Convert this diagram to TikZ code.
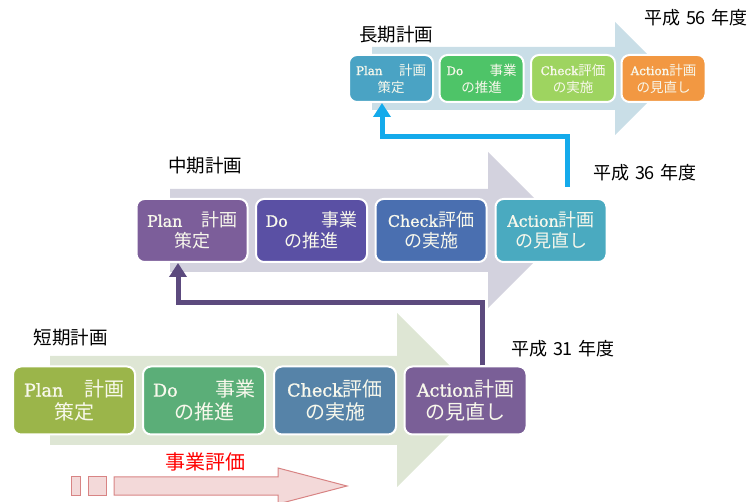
\documentclass[tikz,border=0pt]{standalone}
\usepackage{fontspec}
\setmainfont{Noto Sans CJK JP}
\newfontfamily\lat{DejaVu Serif}[Scale=0.88, FakeBold=1.2]
\usetikzlibrary{arrows.meta}
\definecolor{arrL}{RGB}{201,222,231}
\definecolor{arrM}{RGB}{211,210,222}
\definecolor{arrS}{RGB}{222,230,212}
\definecolor{lPc}{RGB}{74,163,196}
\definecolor{lDc}{RGB}{78,196,104}
\definecolor{lCc}{RGB}{158,212,96}
\definecolor{lAc}{RGB}{242,152,66}
\definecolor{mPc}{RGB}{124,94,154}
\definecolor{mDc}{RGB}{90,80,164}
\definecolor{mCc}{RGB}{74,111,176}
\definecolor{mAc}{RGB}{74,170,192}
\definecolor{sPc}{RGB}{155,181,74}
\definecolor{sDc}{RGB}{91,174,120}
\definecolor{sCc}{RGB}{86,131,168}
\definecolor{sAc}{RGB}{122,95,151}
\definecolor{txtc}{RGB}{248,248,236}
\definecolor{purc}{RGB}{92,74,126}
\definecolor{bluc}{RGB}{20,170,235}
\definecolor{pinkf}{RGB}{243,217,217}
\definecolor{pinkd}{RGB}{216,132,132}
\newcommand{\lt}[1]{{\lat #1}}
\newcommand{\ysp}{\hspace{5.5pt}}
\tikzset{
  pbox/.style={draw=white, line width=2pt, rounded corners=8pt, text=txtc, align=center, inner sep=0pt},
  boxL/.style={pbox, minimum width=84, minimum height=47, font=\fontsize{13.5}{17}\selectfont},
  boxM/.style={pbox, minimum width=111, minimum height=63, font=\fontsize{18}{21}\selectfont},
  boxS/.style={pbox, minimum width=122, minimum height=68, font=\fontsize{20}{23}\selectfont},
  rowlab/.style={font=\fontsize{18.5}{20}\selectfont, inner sep=0pt},
  yearlab/.style={font=\fontsize{18}{20}\selectfont, inner sep=0pt},
  conn/.style={line width=5pt, -{Triangle[width=17pt,length=14pt]}},
}
\begin{document}
\begin{tikzpicture}[x=1pt,y=-1pt]
\useasboundingbox (0,0) rectangle (750,502);
% background arrows
\fill[arrL] (372,47) -- (615,47) -- (615,22) -- (671.5,78.5) -- (615,135) -- (615,110) -- (372,110) -- cycle;
\fill[arrM] (170,189) -- (488,189) -- (488,152) -- (566,230) -- (488,308) -- (488,272) -- (170,272) -- cycle;
\fill[arrS] (50,356) -- (397,356) -- (397,313) -- (484,400) -- (397,487) -- (397,445) -- (50,445) -- cycle;
% long-term
\node[boxL, fill=lPc] (lP) at (391,78.5) {\makebox[70pt]{\lt{Plan}\hfill 計画}\\策定};
\node[boxL, fill=lDc] (lD) at (481.5,78.5) {\makebox[70pt]{\lt{Do}\hfill 事業}\\の推進};
\node[boxL, fill=lCc] (lC) at (573,78.5) {\lt{Check}評価\\の実施};
\node[boxL, fill=lAc] (lA) at (663.5,78.5) {\lt{Action}計画\\の見直し};
% mid-term
\node[boxM, fill=mPc] (mP) at (192,230.5) {\makebox[90pt]{\lt{Plan}\hfill 計画}\\策定};
\node[boxM, fill=mDc] (mD) at (311.5,230.5) {\makebox[92pt]{\lt{Do}\hfill 事業}\\の推進};
\node[boxM, fill=mCc] (mC) at (431,230.5) {\lt{Check}評価\\の実施};
\node[boxM, fill=mAc] (mA) at (551,230.5) {\lt{Action}計画\\の見直し};
% short-term
\node[boxS, fill=sPc] (sP) at (74,400.5) {\makebox[100pt]{\lt{Plan}\hfill 計画}\\策定};
\node[boxS, fill=sDc] (sD) at (204,400.5) {\makebox[102pt]{\lt{Do}\hfill 事業}\\の推進};
\node[boxS, fill=sCc] (sC) at (335,400.5) {\lt{Check}評価\\の実施};
\node[boxS, fill=sAc] (sA) at (465.5,400.5) {\lt{Action}計画\\の見直し};
% labels
\node[rowlab] (labL) at (396,35) {長期計画};
\node[rowlab] (labM) at (205,166) {中期計画};
\node[rowlab] (labS) at (71,338) {短期計画};
\node[yearlab] (y56) at (696,18) {平成\ysp 56\ysp 年度};
\node[yearlab] (y36) at (645,172.5) {平成\ysp 36\ysp 年度};
\node[yearlab] (y31) at (563,349) {平成\ysp 31\ysp 年度};
\node[font=\fontsize{20}{22}\selectfont, text=red, inner sep=0pt] (ev) at (205,462) {事業評価};
% connectors
\coordinate (pturn) at (482,303);
\draw[conn, purc] (sA.north -| pturn) -- (pturn) -| ([xshift=-14pt]mP.south);
\coordinate (bturn) at (567,137);
\draw[conn, bluc, shorten <=11pt] (mA.north -| bturn) -- (bturn) -| ([xshift=-9pt]lP.south);
% evaluation arrow
\filldraw[fill=pinkf, draw=pinkd, line width=1pt] (71,477) rectangle (80,495);
\filldraw[fill=pinkf, draw=pinkd, line width=1pt] (88,477) rectangle (106,495);
\filldraw[fill=pinkf, draw=pinkd, line width=1pt] (114,477) -- (278,477) -- (278,468) -- (347,486) -- (278,504) -- (278,495) -- (114,495) -- cycle;
\end{tikzpicture}
\end{document}
